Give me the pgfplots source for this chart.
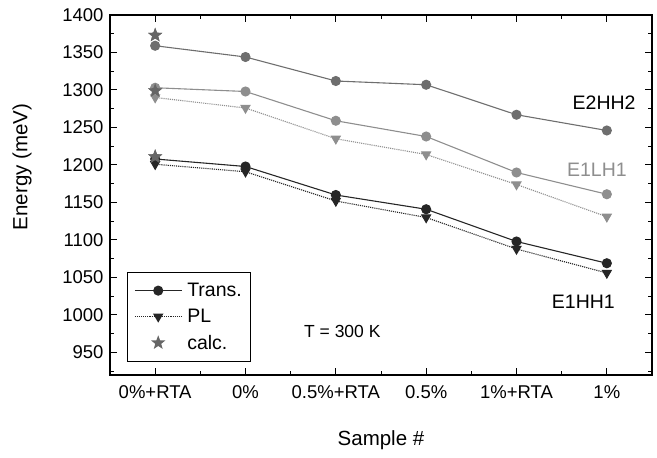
\documentclass[border=0pt]{standalone}
\usepackage{fontspec}
\setmainfont{Liberation Sans}
\usepackage{pgfplots}
\pgfplotsset{compat=1.18}
\definecolor{cdark}{HTML}{262626}
\definecolor{cmid}{HTML}{6E6E6E}
\definecolor{clight}{HTML}{8E8E8E}
\definecolor{cstar}{HTML}{666666}
\pgfdeclareplotmark{fstar}{%
  \pgfpathmoveto{\pgfpointpolar{90}{\pgfplotmarksize}}%
  \pgfpathlineto{\pgfpointpolar{126}{0.42\pgfplotmarksize}}%
  \pgfpathlineto{\pgfpointpolar{162}{\pgfplotmarksize}}%
  \pgfpathlineto{\pgfpointpolar{198}{0.42\pgfplotmarksize}}%
  \pgfpathlineto{\pgfpointpolar{234}{\pgfplotmarksize}}%
  \pgfpathlineto{\pgfpointpolar{270}{0.42\pgfplotmarksize}}%
  \pgfpathlineto{\pgfpointpolar{306}{\pgfplotmarksize}}%
  \pgfpathlineto{\pgfpointpolar{342}{0.42\pgfplotmarksize}}%
  \pgfpathlineto{\pgfpointpolar{18}{\pgfplotmarksize}}%
  \pgfpathlineto{\pgfpointpolar{54}{0.42\pgfplotmarksize}}%
  \pgfpathclose\pgfusepathqfill}
\begin{document}
\begin{tikzpicture}
\begin{axis}[
  scale only axis, width=542pt, height=360pt,
  clip=false,
  xmin=-0.5, xmax=5.5, ymin=920, ymax=1400,
  xtick={0,1,2,3,4,5},
  xticklabels={0\%+RTA,0\%,0.5\%+RTA,0.5\%,1\%+RTA,1\%},
  minor xtick={0.5,1.5,2.5,3.5,4.5},
  ytick={950,1000,...,1400},
  minor ytick={925,975,...,1375},
  tick align=inside,
  major tick length=7pt, minor tick length=4pt,
  every tick/.style={black, line width=1pt},
  axis line style={line width=1.3pt},
  /pgf/number format/assume math mode=true,
  /pgf/number format/1000 sep={},
  tick label style={font=\fontsize{18.5}{22}\selectfont},
  xticklabel style={yshift=-7pt},
  yticklabel style={xshift=-3pt},
  legend style={at={(0.031,0.036)}, anchor=south west, draw=black, line width=0.8pt,
    font=\fontsize{19.5}{22}\selectfont, row sep=7pt, column sep=3pt,
    inner xsep=7pt, inner ysep=9pt},
  legend cell align=left,
  legend image code/.code={%
    \draw[#1] (0cm,0cm) -- (1.65cm,0cm);
    \draw[#1, only marks] plot coordinates {(0.825cm,0cm)};},
  mark size=4.5pt,
]
% E1HH1
\addplot[cdark, line width=1.1pt, mark=*, mark options={solid}] coordinates {
 (0,1208) (1,1198) (2,1160) (3,1141) (4,1098) (5,1069)};
\addlegendentry{Trans.}
\addplot[cdark, line width=1.1pt, densely dotted, mark=triangle*, mark size=5pt, mark options={solid, rotate=180}] coordinates {
 (0,1201) (1,1191) (2,1152) (3,1130) (4,1088) (5,1056)};
\addlegendentry{PL}
\addplot[cstar, only marks, mark=fstar, mark size=7.5pt,
  legend image code/.code={\draw[cstar, only marks, mark=fstar, mark size=7.5pt] plot coordinates {(0.825cm,0cm)};}] coordinates {
 (0,1373) (0,1299) (0,1211)};
\addlegendentry{calc.}
% E1LH1
\addplot[clight, line width=1.1pt, mark=*, mark options={solid}, forget plot] coordinates {
 (0,1303) (1,1298) (2,1259) (3,1238) (4,1190) (5,1161)};
\addplot[clight, line width=1.1pt, densely dotted, mark=triangle*, mark size=5pt, mark options={solid, rotate=180}, forget plot] coordinates {
 (0,1290) (1,1276) (2,1235) (3,1214) (4,1174) (5,1131)};
% E2HH2
\addplot[cmid, line width=1.1pt, mark=*, mark options={solid}, forget plot] coordinates {
 (0,1359) (1,1344) (2,1312) (3,1307) (4,1267) (5,1246)};
% stars on top again
\addplot[cstar, only marks, mark=fstar, mark size=7.5pt, forget plot] coordinates {
 (0,1373) (0,1299) (0,1211)};
\node[font=\fontsize{19.5}{22}\selectfont, black] at (axis cs:4.97,1283) {E2HH2};
\node[font=\fontsize{19.5}{22}\selectfont, clight] at (axis cs:4.89,1194) {E1LH1};
\node[font=\fontsize{19.5}{22}\selectfont, black] at (axis cs:4.74,1018) {E1HH1};
\node[font=\fontsize{17.5}{20}\selectfont, anchor=west] at (axis cs:1.61,978) {T = 300 K};
\node[font=\fontsize{20.5}{24}\selectfont, rotate=90] at (axis description cs:-0.162,0.578) {Energy (meV)};
\node[font=\fontsize{20.5}{24}\selectfont] at (axis description cs:0.5,-0.18) {Sample \#};
\end{axis}
\pgfresetboundingbox
\path[use as bounding box] ([shift={(-110pt,-82pt)}]current axis.south west) rectangle ([shift={(5pt,15pt)}]current axis.north east);
\end{tikzpicture}
\end{document}
